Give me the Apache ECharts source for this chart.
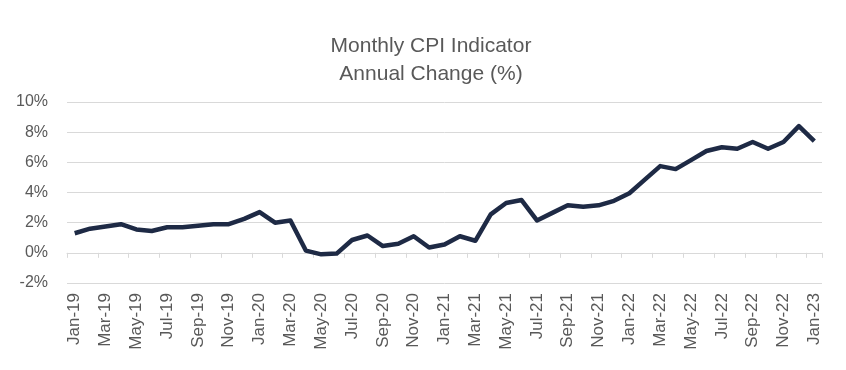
<!DOCTYPE html>
<html><head><meta charset="utf-8">
<script src="https://cdn.jsdelivr.net/npm/echarts@6/dist/echarts.min.js"></script>
<style>html,body{margin:0;padding:0;background:#fff}#c{width:846px;height:370px}</style>
</head><body><div id="c"></div>
<script>
const months = ['Jan','Feb','Mar','Apr','May','Jun','Jul','Aug','Sep','Oct','Nov','Dec'];
const categories = [];
for (let y = 19; y <= 23; y++) for (let m = 0; m < 12; m++) { if (y === 23 && m > 0) break; categories.push(months[m] + '-' + y); }
const cpiValues = [1.3,1.6,1.75,1.9,1.55,1.45,1.7,1.7,1.8,1.9,1.9,2.25,
  2.7,2.0,2.15,0.15,-0.1,-0.05,0.85,1.15,0.45,0.6,1.1,0.35,
  0.55,1.1,0.8,2.55,3.3,3.5,2.15,2.65,3.15,3.05,3.15,3.45,
  3.95,4.85,5.75,5.55,6.15,6.75,7.0,6.9,7.35,6.9,7.35,8.4,7.4];
const titleLines = ['Monthly CPI Indicator', 'Annual Change (%)'];
const chart = echarts.init(document.getElementById('c'));
chart.setOption({
  animation: false,
  title: { text: titleLines.join('\n'), left: 426, top: 27, textAlign: 'center',
    textStyle: { fontFamily: 'Liberation Sans', fontSize: 21, fontWeight: 'normal', color: '#595959', lineHeight: 28 } },
  grid: { left: 67, right: 24, top: 102, bottom: 87 },
  xAxis: { type: 'category', data: categories, boundaryGap: true,
    axisLine: { onZero: true, lineStyle: { color: '#d9d9d9', width: 1 } },
    axisTick: { show: true, interval: 1, length: 5, lineStyle: { color: '#d9d9d9' } },
    axisLabel: { interval: 1, rotate: 90, fontFamily: 'Liberation Sans', fontSize: 17, color: '#595959', margin: 10 } },
  yAxis: { type: 'value', min: -2, max: 10, interval: 2,
    axisLabel: { formatter: '{value}%', fontFamily: 'Liberation Sans', fontSize: 16, color: '#595959', margin: 19 },
    splitLine: { lineStyle: { color: '#d9d9d9', width: 1 } },
    axisLine: { show: false }, axisTick: { show: false } },
  series: [{ type: 'line', data: cpiValues, symbol: 'none', lineStyle: { color: '#1e2a45', width: 4.5, join: 'round' } }]
});
</script></body></html>
